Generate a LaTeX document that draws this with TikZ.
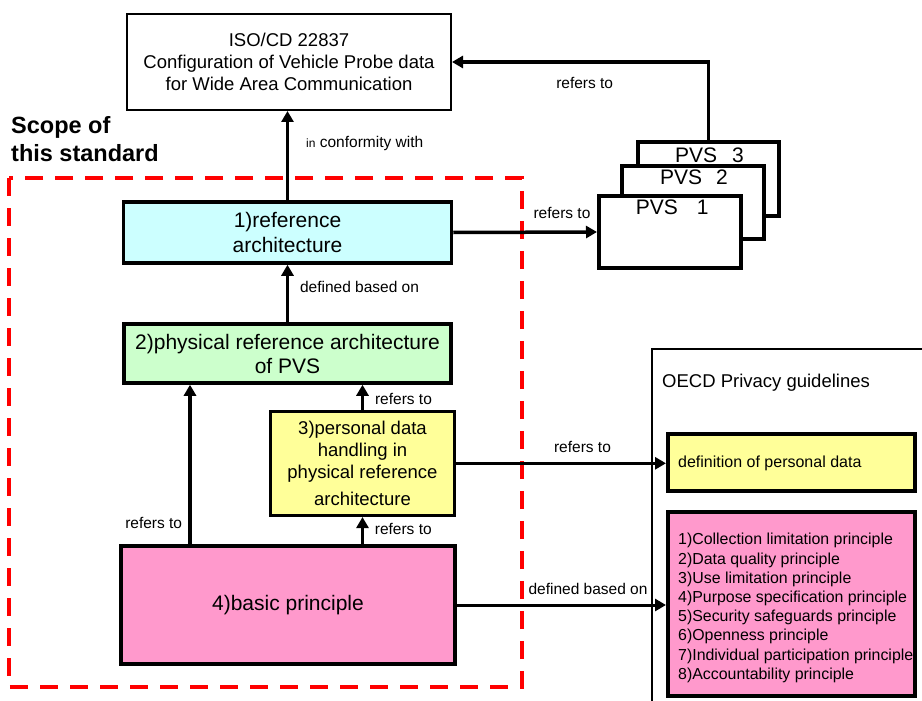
\documentclass[tikz,border=0pt]{standalone}
\usepackage{fontspec}
\setmainfont{Liberation Sans}
\usetikzlibrary{arrows.meta}
\definecolor{cyanbox}{HTML}{CCFFFF}
\definecolor{greenbox}{HTML}{CCFFCC}
\definecolor{yellowbox}{HTML}{FFFF99}
\definecolor{pinkbox}{HTML}{FF99CC}
\definecolor{scopered}{HTML}{FF0000}
\begin{document}
\begin{tikzpicture}[x=1pt,y=-1pt,
  box/.style={draw=black, line width=3.5pt, inner sep=0pt, align=center},
  pvsbox/.style={draw=black, fill=white, line width=4pt, inner sep=0pt},
  pvstext/.style={inner sep=0pt, anchor=west, font=\fontsize{21}{24}\selectfont},
  lbl/.style={inner sep=0pt, font=\fontsize{15.5}{18}\selectfont},
  arr/.style={line width=3.5pt, -{Triangle[length=11pt,width=12pt]}},
  arrr/.style={line width=3pt, -{Triangle[length=11pt,width=12pt]}},
  scope/.style={draw=scopered, line width=4pt, dash pattern=on 18pt off 12pt},
]
\useasboundingbox (0,0) rectangle (922,701);

% scope of this standard
\draw[scope] (9,178) rectangle (522,687);
\node[inner sep=0pt, anchor=west, align=left, font=\fontsize{23.5}{28}\selectfont\bfseries] (scopetxt) at (11,139) {Scope of\\this standard};

% ISO box
\node[box, line width=2pt, minimum width=324, minimum height=96, font=\fontsize{18.5}{22}\selectfont] (iso) at (289,62) {ISO/CD 22837\\Configuration of Vehicle Probe data\\for Wide Area Communication};

% main boxes
\node[box, fill=cyanbox, minimum width=328, minimum height=61, font=\fontsize{21}{25.6}\selectfont] (b1) at (287.5,232.5) {1)reference\\architecture};
\node[box, fill=greenbox, minimum width=327, minimum height=59, font=\fontsize{21}{24}\selectfont] (b2) at (287.5,353.5) {2)physical reference architecture\\of PVS};
\node[box, fill=yellowbox, minimum width=184, minimum height=104, font=\fontsize{18.5}{22}\selectfont] (b3) at (362.5,463.3) {3)personal data\\handling in\\physical reference\\[5pt]architecture};
\node[box, fill=pinkbox, minimum width=334, minimum height=118, font=\fontsize{21}{24}\selectfont] (b4) at (288,605) {4)basic principle};

% PVS stack
\node[pvsbox, minimum width=141, minimum height=74] (p3) at (708.5,179) {};
\node[pvstext] (t3) at (675,155) {PVS\hspace{15pt}3};
\node[pvsbox, minimum width=142, minimum height=73] (p2) at (693,202.5) {};
\node[pvstext] (t2) at (660,177) {PVS\hspace{14pt}2};
\node[pvsbox, minimum width=142, minimum height=72] (p1) at (670,232) {};
\node[pvstext] (t1) at (635.7,207) {PVS\hspace{19pt}1};

% OECD container
\draw[line width=2pt] (652,705) coordinate (oecdbl) |- (925,349) coordinate (oecdtr);
\node[inner sep=0pt, anchor=west, font=\fontsize{18.5}{22}\selectfont] (oecd) at (662,383) {OECD Privacy guidelines};
\node[box, fill=yellowbox, line width=4pt, minimum width=247, minimum height=57] (def) at (791.5,462.5) {};
\node[inner sep=0pt, anchor=west, font=\fontsize{16}{19}\selectfont] (deftxt) at (678,463) {definition of personal data};
\node[box, fill=pinkbox, line width=4pt, minimum width=247, minimum height=184] (pr) at (791.5,604) {};
\node[inner sep=0pt, anchor=west, align=left, font=\fontsize{15.9}{19.2}\selectfont] (prtxt) at (678,608) {1)Collection limitation principle\\2)Data quality principle\\3)Use limitation principle\\4)Purpose specification principle\\5)Security safeguards principle\\6)Openness principle\\7)Individual participation principle\\8)Accountability principle};

% connectors
\draw[arr] (b1.north) -- (b1.north |- iso.south);
\node[inner sep=0pt, anchor=west, font=\fontsize{15.5}{18}\selectfont] (lconf) at (306,143) {{\fontsize{12}{14}\selectfont in} conformity with};

\draw[arr] (b2.north) -- (b2.north |- b1.south);
\node[lbl] (ldef) at (359.5,287.3) {defined based on};

\draw[arr] (b3.north) -- (b3.north |- b2.south);
\node[lbl] (lr32) at (403.5,399.3) {refers to};

\draw[arr] ([xshift=-98pt]b4.north) -- ([xshift=-98pt]b4.north |- b2.south);
\node[lbl] (lr42) at (153.7,522.7) {refers to};

\draw[arr] (b3.south |- b4.north) -- (b3.south);
\node[lbl] (lr43) at (403.3,529.3) {refers to};

\draw[arr] (b1.east) -- (p1.west);
\node[lbl] (lr1p) at (562,212.7) {refers to};

\draw[arr] (p3.north) |- (iso.east);
\node[lbl] (lrp) at (584.7,82.7) {refers to};

\draw[arrr] (b3.east) -- (b3.east -| def.west);
\node[lbl] (lr3d) at (582.5,446.7) {refers to};

\draw[arrr] (b4.east) -- (b4.east -| pr.west);
\node[lbl] (ld4p) at (588,589.3) {defined based on};
\end{tikzpicture}
\end{document}
